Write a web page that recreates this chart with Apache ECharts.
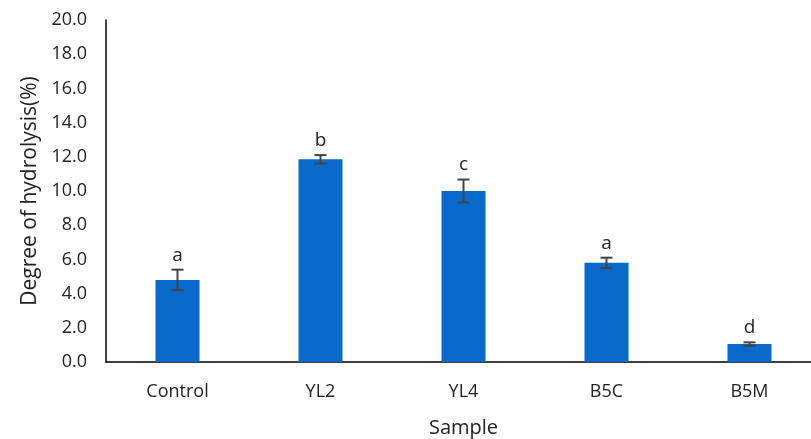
<!DOCTYPE html>
<html><head><meta charset="utf-8">
<script src="https://cdn.jsdelivr.net/npm/echarts@6/dist/echarts.min.js"></script>
<style>html,body{margin:0;padding:0;background:#fff}#c{width:811px;height:439px}</style>
</head><body><div id="c"></div>
<script>
var categories = ['Control','YL2','YL4','B5C','B5M'];
var means = [4.8, 11.85, 10.0, 5.8, 1.05];
var errors = [0.6, 0.25, 0.67, 0.3, 0.1];
var letters = ['a','b','c','a','d'];
var yTicks = [0,2,4,6,8,10,12,14,16,18,20];

var FONT = '"Open Sans", "Liberation Sans", sans-serif';
var chart = echarts.init(document.getElementById('c'));
var errData = categories.map(function(c,i){return [i, means[i]-errors[i], means[i]+errors[i]];});
var lblData = categories.map(function(c,i){return [i, means[i]+errors[i], letters[i]];});
chart.setOption({
  animation:false,
  grid:{left:106,width:715,top:20,height:342,containLabel:false,outerBoundsMode:'none'},
  xAxis:{type:'category',data:categories,
    axisLine:{lineStyle:{color:'#000',width:1.5}},axisTick:{show:false},
    axisLabel:{color:'#222',fontSize:18,fontFamily:FONT,margin:21},
    name:'Sample',nameLocation:'middle',nameGap:56,
    nameTextStyle:{color:'#222',fontSize:20,fontFamily:FONT}},
  yAxis:{type:'value',min:yTicks[0],max:yTicks[yTicks.length-1],interval:2,
    axisLine:{show:true,lineStyle:{color:'#000',width:1.5}},axisTick:{show:false},
    splitLine:{show:false},
    axisLabel:{color:'#222',fontSize:18,fontFamily:FONT,margin:19,formatter:function(v){return v.toFixed(1);}},
    name:'Degree of hydrolysis(%)',nameLocation:'middle',nameGap:65,
    nameTextStyle:{color:'#222',fontSize:21,fontFamily:FONT}},
  series:[
    {type:'bar',data:means,barWidth:44,itemStyle:{color:'#0a6acb'}},
    {type:'custom',data:errData,z:10,renderItem:function(params,api){
      var x=api.value(0);
      var lo=api.coord([x,api.value(1)]);
      var hi=api.coord([x,api.value(2)]);
      var w=6;
      var st={stroke:'#444',lineWidth:2};
      return {type:'group',children:[
        {type:'line',shape:{x1:hi[0],y1:hi[1],x2:lo[0],y2:lo[1]},style:st},
        {type:'line',shape:{x1:hi[0]-w,y1:hi[1],x2:hi[0]+w,y2:hi[1]},style:st},
        {type:'line',shape:{x1:lo[0]-w,y1:lo[1],x2:lo[0]+w,y2:lo[1]},style:st}
      ]};
    }},
    {type:'custom',data:lblData,z:11,renderItem:function(params,api){
      var p=api.coord([api.value(0),api.value(1)]);
      return {type:'text',style:{x:p[0],y:p[1]-5,text:letters[params.dataIndex],
        textAlign:'center',textVerticalAlign:'bottom',fill:'#222',fontSize:19,fontFamily:FONT}};
    }}
  ]
});
</script></body></html>
